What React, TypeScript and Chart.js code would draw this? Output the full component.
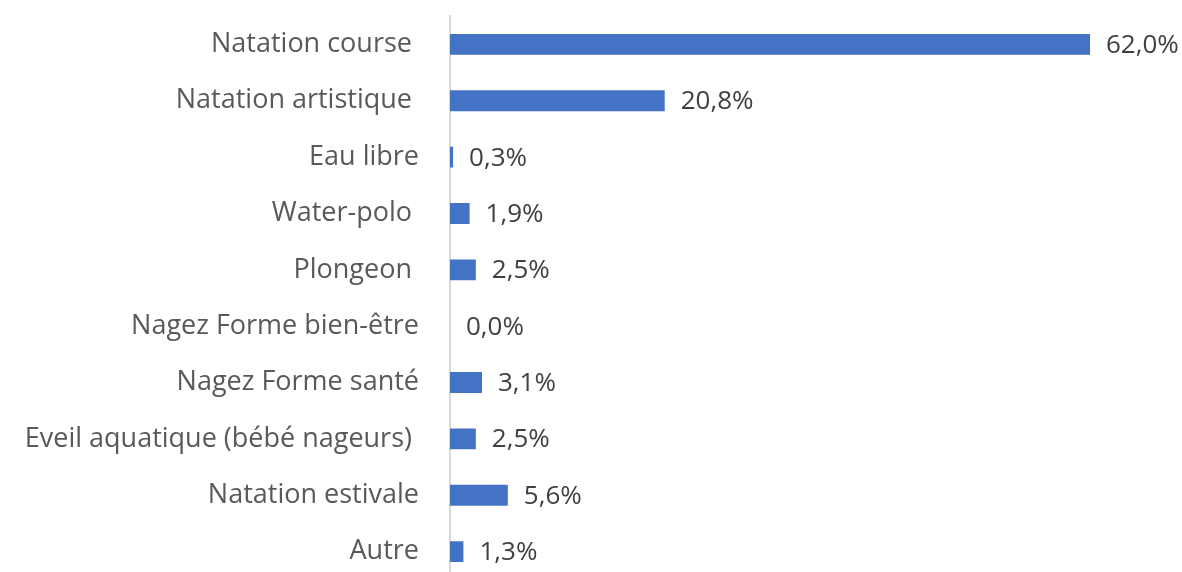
import React, { useEffect, useRef } from "react";
import { Chart, registerables } from "chart.js";

Chart.register(...registerables);

const categories = [
  "Natation course ",
  "Natation artistique ",
  "Eau libre",
  "Water-polo ",
  "Plongeon ",
  "Nagez Forme bien-être",
  "Nagez Forme santé",
  "Eveil aquatique (bébé nageurs) ",
  "Natation estivale",
  "Autre",
];
const values = [62.0, 20.8, 0.3, 1.9, 2.5, 0.0, 3.1, 2.5, 5.6, 1.3];
const valueLabels = values.map((v) => v.toFixed(1).replace(".", ",") + "%");

const FONT = "'Open Sans', 'Noto Sans', sans-serif";

const labelPlugin = {
  id: "valueLabels",
  afterDatasetsDraw(chart: any) {
    const ctx = chart.ctx;
    const meta = chart.getDatasetMeta(0);
    ctx.save();
    ctx.font = `26px ${FONT}`;
    ctx.fillStyle = "#404040";
    ctx.textAlign = "left";
    ctx.textBaseline = "middle";
    meta.data.forEach((bar: any, i: number) => {
      ctx.fillText(valueLabels[i], bar.x + 16, bar.y + 1);
    });
    ctx.restore();
  },
};

export default function App() {
  const ref = useRef<HTMLCanvasElement>(null);
  useEffect(() => {
    document.body.style.margin = "0";
    document.body.style.overflow = "hidden";
    const chart = new Chart(ref.current!, {
      type: "bar",
      data: {
        labels: categories,
        datasets: [
          {
            data: values,
            backgroundColor: "#4472C4",
            barPercentage: 0.37,
            categoryPercentage: 1,
          },
        ],
      },
      options: {
        indexAxis: "y",
        animation: false,
        responsive: false,
        events: [],
        layout: { padding: { top: 16, bottom: 16, right: 92, left: 0 } },
        plugins: { legend: { display: false }, tooltip: { enabled: false } },
        scales: {
          x: { display: false, min: 0, max: 62 },
          y: {
            afterFit: (s: any) => {
              s.width = 450;
            },
            grid: { display: false, drawTicks: true, tickLength: 31 },
            border: { display: true, color: "#d9d9d9", width: 2 },
            ticks: {
              padding: 0,
              color: "#595959",
              font: { family: FONT, size: 27 },
            },
          },
        },
      },
      plugins: [labelPlugin],
    });
    return () => chart.destroy();
  }, []);
  return (
    <div style={{ width: 1182, height: 572, overflow: "hidden", background: "#fff" }}>
      <canvas ref={ref} width={1182} height={596} style={{ display: "block" }} />
    </div>
  );
}
